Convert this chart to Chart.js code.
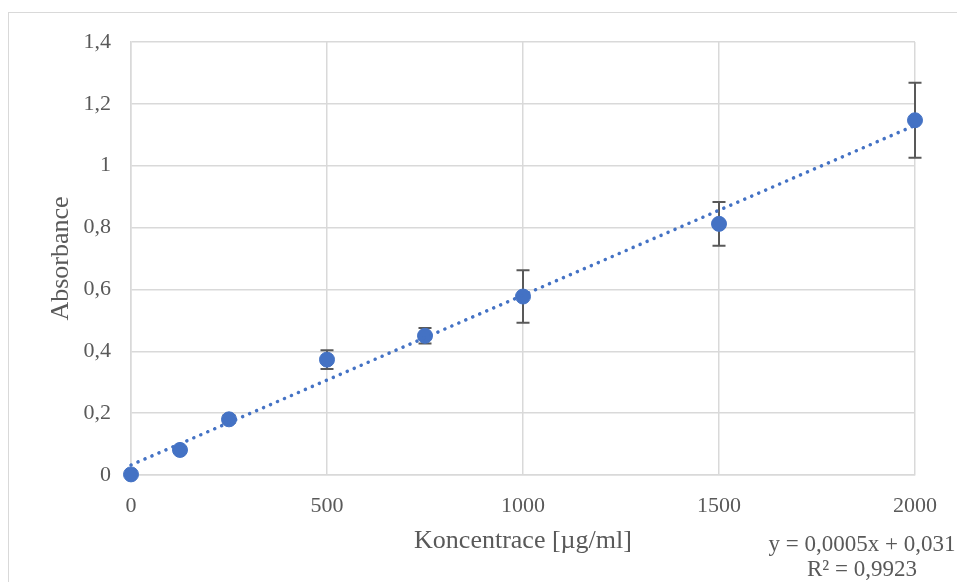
<!DOCTYPE html>
<html>
<head>
<meta charset="utf-8">
<script src="https://cdn.jsdelivr.net/npm/chart.js@4/dist/chart.umd.min.js"></script>
<style>
  body { margin: 0; background: #fff; }
  #moldura {
    position: absolute; left: 8px; top: 12px; width: 1000px; height: 700px;
    border-left: 1.5px solid #d9d9d9; border-top: 1.5px solid #d9d9d9;
  }
  #grafico { position: absolute; left: 0; top: 0; }
</style>
</head>
<body>
<div id="moldura"></div>
<canvas id="grafico" width="957" height="582"></canvas>
<script>
// koncentrace [µg/ml] a namerena absorbance
const koncentrace = [0, 125, 250, 500, 750, 1000, 1500, 2000];
const absorbance = [0.002, 0.081, 0.180, 0.373, 0.450, 0.577, 0.812, 1.147];
const odchylka = [0, 0.004, 0.012, 0.030, 0.025, 0.085, 0.071, 0.121];

const xTicks = [0, 500, 1000, 1500, 2000];
const yTicks = [0, 0.2, 0.4, 0.6, 0.8, 1, 1.2, 1.4];

const rovnice = ['y = 0,0005x + 0,031', 'R² = 0,9923'];

const modra = '#4472C4';
const seda = '#595959';
const mrizka = '#d9d9d9';

// linearni regrese pro spojnici trendu
function regrese(xs, ys) {
  let n = xs.length, sx = 0, sy = 0, sxy = 0, sxx = 0;
  for (let i = 0; i < n; i++) {
    sx += xs[i]; sy += ys[i];
    sxy += xs[i] * ys[i]; sxx += xs[i] * xs[i];
  }
  const k = (n * sxy - sx * sy) / (n * sxx - sx * sx);
  const q = (sy - k * sx) / n;
  return { k: k, q: q };
}

const fit = regrese(koncentrace, absorbance);
const xMin = xTicks[0], xMax = xTicks[xTicks.length - 1];
const trend = [
  { x: xMin, y: fit.k * xMin + fit.q },
  { x: xMax, y: fit.k * xMax + fit.q }
];

const body = koncentrace.map((x, i) => ({ x: x, y: absorbance[i] }));

function carka(v) {
  return (Math.round(v * 10) / 10).toString().replace('.', ',');
}

const chybovePlugin = {
  id: 'chyby',
  beforeDatasetsDraw(chart) {
    const ctx = chart.ctx;
    const sx = chart.scales.x, sy = chart.scales.y;
    ctx.save();
    ctx.strokeStyle = seda;
    ctx.lineWidth = 2;
    koncentrace.forEach(function (x, i) {
      if (!odchylka[i]) return;
      const px = sx.getPixelForValue(x);
      const top = sy.getPixelForValue(absorbance[i] + odchylka[i]);
      const bot = sy.getPixelForValue(absorbance[i] - odchylka[i]);
      ctx.beginPath();
      ctx.moveTo(px, top); ctx.lineTo(px, bot);
      ctx.moveTo(px - 6.5, top); ctx.lineTo(px + 6.5, top);
      ctx.moveTo(px - 6.5, bot); ctx.lineTo(px + 6.5, bot);
      ctx.stroke();
    });
    ctx.restore();
  }
};

const rovnicePlugin = {
  id: 'rovnice',
  afterDraw(chart) {
    const ctx = chart.ctx;
    ctx.save();
    ctx.fillStyle = seda;
    ctx.font = '23px "Liberation Serif"';
    ctx.textAlign = 'center';
    ctx.textBaseline = 'middle';
    ctx.fillText(rovnice[0], 862, 545);
    ctx.fillText(rovnice[1], 862, 570);
    ctx.restore();
  }
};

Chart.defaults.font.family = '"Liberation Serif", "Times New Roman", serif';
Chart.defaults.color = seda;

new Chart(document.getElementById('grafico'), {
  type: 'scatter',
  data: {
    datasets: [
      {
        type: 'line',
        label: 'trend',
        data: trend,
        borderColor: modra,
        borderWidth: 3.5,
        borderDash: [0.1, 7.5],
        borderCapStyle: 'round',
        pointRadius: 0,
        fill: false,
        clip: false,
        order: 0
      },
      {
        label: 'Absorbance',
        data: body,
        backgroundColor: modra,
        borderColor: modra,
        pointRadius: 7.5,
        pointHoverRadius: 7.5,
        clip: false,
        order: 1
      }
    ]
  },
  options: {
    responsive: false,
    animation: false,
    layout: { padding: { top: 42, right: 42, left: 0, bottom: 0 } },
    plugins: {
      legend: { display: false },
      tooltip: { enabled: false }
    },
    scales: {
      x: {
        type: 'linear',
        min: xMin,
        max: xMax,
        afterBuildTicks: s => { s.ticks = xTicks.map(v => ({ value: v })); },
        afterFit: s => { s.height = 107; },
        ticks: { font: { size: 22 }, padding: 18, maxRotation: 0, callback: v => String(v) },
        grid: { color: mrizka, lineWidth: 1.5, drawTicks: false },
        border: { color: mrizka, width: 1.5 },
        title: {
          display: true,
          text: 'Koncentrace [µg/ml]',
          font: { size: 26 },
          padding: { top: 0, bottom: 25 }
        }
      },
      y: {
        min: yTicks[0],
        max: yTicks[yTicks.length - 1],
        afterBuildTicks: s => { s.ticks = yTicks.map(v => ({ value: v })); },
        afterFit: s => { s.width = 131; },
        ticks: { font: { size: 22 }, padding: 20, callback: v => carka(v) },
        grid: { color: mrizka, lineWidth: 1.5, drawTicks: false },
        border: { color: mrizka, width: 1.5 },
        title: {
          display: true,
          text: 'Absorbance',
          font: { size: 26 },
          padding: { top: 46, bottom: 0 }
        }
      }
    }
  },
  plugins: [chybovePlugin, rovnicePlugin]
});
</script>
</body>
</html>
